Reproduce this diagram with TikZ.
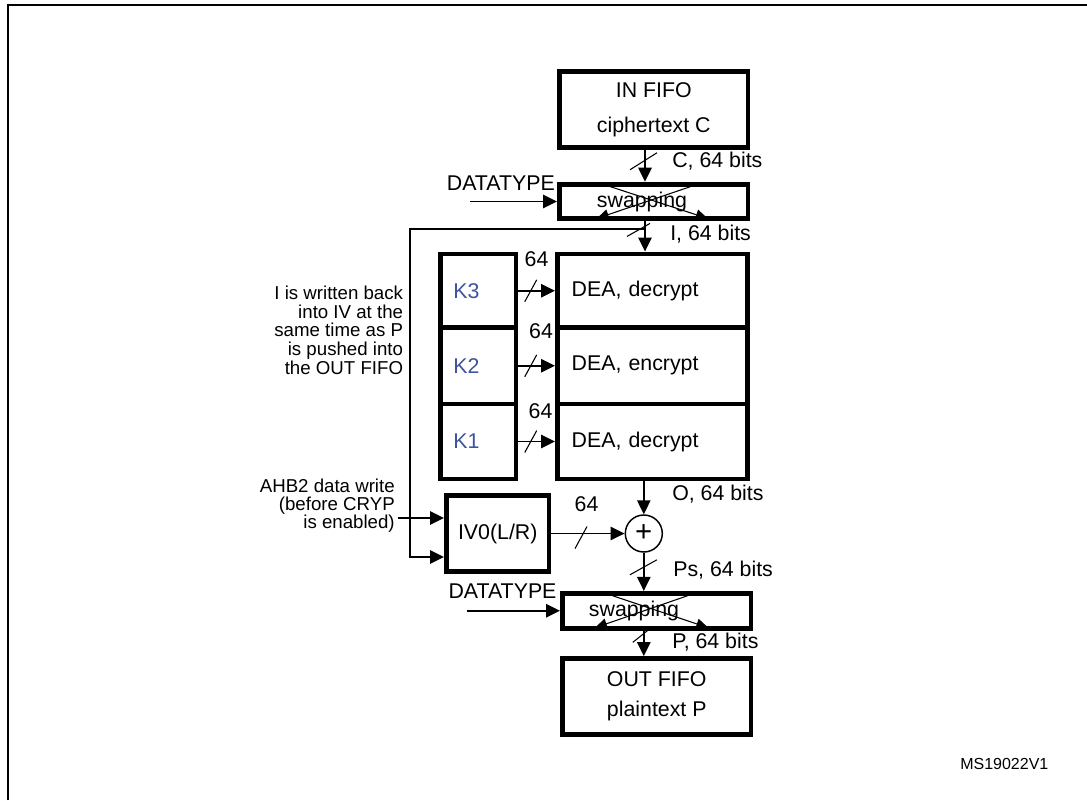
\documentclass[tikz,border=0pt]{standalone}
\usepackage{fontspec}
\setmainfont{Liberation Sans}
\usetikzlibrary{calc,arrows.meta}

\definecolor{keyblue}{RGB}{62,84,160}

\tikzset{
  blk/.style={draw, line width=3.7pt, inner sep=0pt, font=\fontsize{16}{19}\selectfont},
  fifo/.style={blk, minimum width=141.4pt, minimum height=56.6pt, align=center},
  swapbox/.style={blk, minimum width=141.4pt, minimum height=26pt},
  dearow/.style={blk, text width=121.3pt, inner xsep=10.6pt, minimum height=#1, align=left},
  keyrow/.style={blk, text width=37.4pt, inner xsep=9.6pt, minimum height=#1, align=left, text=keyblue},
  xorop/.style={circle, draw, line width=1.1pt, minimum size=27.75pt, inner sep=0pt, font=\fontsize{22}{24}\selectfont},
  lbl/.style={inner sep=0pt, font=\fontsize{16}{19}\selectfont},
  note/.style={inner sep=0pt, align=right},
  flow/.style={-{Triangle[length=10.5pt,width=10pt]}, line width=1.3pt},
  crossarrow/.style={-{Triangle[length=9pt,width=8pt]}, line width=0.8pt},
  busmark/.style={line width=0.8pt}
}

\begin{document}
\begin{tikzpicture}[x=0.75pt, y=-0.75pt]
  \path[use as bounding box, fill=white] (0,0) rectangle (1087,800);
  \draw[line width=1.5pt] (7.7,800) -- (7.7,5) -- (1087,5);

  % blocks
  \coordinate (busA) at (645,0);
  \node[fifo, font=\fontsize{16}{26.25}\selectfont] (infifo) at (653.75,109.6) {IN FIFO\\ciphertext C};
  \node[swapbox] (swapA) at (653.75,201.5) {};
  \node[lbl] (swapAtxt) at ($(swapA)+(-11.75,0)$) {swapping};

  \node[dearow=55.1pt] (dea3) at (652.5,290.75) {DEA, decrypt};
  \node[dearow=57.4pt] (dea2) at (652.5,365.75) {DEA, encrypt};
  \node[dearow=56.25pt] (dea1) at (652.5,441.5) {DEA, decrypt};
  \node[keyrow=55.1pt] (k3) at (478.25,290.75) {K3};
  \node[keyrow=57.4pt] (k2) at (478.25,365.75) {K2};
  \node[keyrow=56.25pt] (k1) at (478.25,441.5) {K1};

  \node[blk, minimum width=76.9pt, minimum height=56.9pt] (iv0) at (497.75,533.5) {IV0(L/R)};
  \path (iv0.west) ++(0,-15.5) coordinate (ivhi);
  \path (iv0.west) ++(0,23.5) coordinate (ivlo);
  \node[xorop] (xor) at (643.8,533.5) {+};

  \node[swapbox] (swapB) at (656.75,610.75) {};
  \node[lbl] (swapBtxt) at ($(swapB)+(-22.75,0)$) {swapping};
  \node[fifo, font=\fontsize{16}{22.5}\selectfont] (outfifo) at (656.75,696.3) {OUT FIFO\\plaintext P};

  % swapping crosses
  \draw[crossarrow] ($(swapA)+(-50,-17)$) -- ($(swapA)+(54,17)$);
  \draw[crossarrow] ($(swapA)+(43,-17)$) -- ($(swapA)+(-57,17)$);
  \draw[crossarrow] ($(swapB)+(-50,-17)$) -- ($(swapB)+(51.5,17)$);
  \draw[crossarrow] ($(swapB)+(36.5,-17)$) -- ($(swapB)+(-61.75,17)$);

  % texts
  \node[lbl, anchor=base east] (dtypeA) at (555,190) {DATATYPE};
  \node[lbl, anchor=base east] (dtypeB) at (556.7,598.3) {DATATYPE};
  \node[lbl, anchor=base west] (cbits) at (672,167) {C, 64 bits};
  \node[lbl, anchor=base west] (ibits) at (670,240) {I, 64 bits};
  \node[lbl, anchor=base west] (obits) at (672,500) {O, 64 bits};
  \node[lbl, anchor=base west] (psbits) at (673,576) {Ps, 64 bits};
  \node[lbl, anchor=base west] (pbits) at (672,648) {P, 64 bits};
  \node[lbl, anchor=base] (w3) at (536.5,266.7) {64};
  \node[lbl, anchor=base] (w2) at (541,338.3) {64};
  \node[lbl, anchor=base] (w1) at (540.5,418.3) {64};
  \node[lbl, anchor=base] (wiv) at (586.5,511.7) {64};
  \node[note, font=\fontsize{14}{13.9}\selectfont, anchor=base east] (wbnote) at (403.3,374)
    {I is written back\\into IV at the\\same time as P\\is pushed into\\the OUT FIFO};
  \node[note, font=\fontsize{14}{13.5}\selectfont, anchor=base east] (ahb) at (395,528.3)
    {AHB2 data write\\(before CRYP\\is enabled)};
  \node[inner sep=0pt, font=\fontsize{12}{14}\selectfont, anchor=base west] (figid) at (960,769.3) {MS19022V1};

  % data path
  \draw[flow] (infifo.south -| busA) -- (swapA.north -| busA);
  \draw[busmark] ($(infifo.south -| busA)!0.5!(swapA.north -| busA)$) ++(-15,4) -- ++(27,-17);
  \draw[flow] (swapA.south -| busA) -- (dea3.north -| busA);
  \draw[busmark] ($(swapA.south -| busA)!0.5!(dea3.north -| busA)$) ++(-18,0) -- ++(23,-13);
  \coordinate (fbturn) at (410,229);
  \draw[flow] (busA |- fbturn) -- (fbturn) |- (ivlo);

  \coordinate (dtA) at (470,201.5);
  \draw[flow] (dtA) -- (swapA.west);
  \coordinate (dtB) at (466.7,610.75);
  \draw[flow] (dtB) -- (swapB.west);

  \draw[flow] (k3.east) -- (dea3.west);
  \draw[busmark] ($(k3.east)!0.5!(dea3.west)$) ++(-12,11) -- ++(12,-22);
  \draw[flow] (k2.east) -- (dea2.west);
  \draw[busmark] ($(k2.east)!0.5!(dea2.west)$) ++(-12,11) -- ++(12,-22);
  \draw[flow] (k1.east) -- (dea1.west);
  \draw[busmark] ($(k1.east)!0.5!(dea1.west)$) ++(-12,11) -- ++(12,-22);

  \draw[flow] (dea1.south -| xor) -- (xor.north);
  \draw[flow, shorten <=2pt] (ahb.east |- ivhi) -- (ivhi);
  \draw[flow] (iv0.east) -- (xor.west);
  \draw[busmark] ($(iv0.east)!0.5!(xor.west)$) ++(-13,15) -- ++(12,-22);

  \draw[flow] (xor.south) -- (swapB.north -| xor);
  \draw[busmark] ($(xor.south)!0.5!(swapB.north -| xor)$) ++(-14,3) -- ++(27,-15);
  \draw[flow] (swapB.south -| xor) -- (outfifo.north -| xor);
  \draw[busmark] ($(swapB.south -| xor)!0.5!(outfifo.north -| xor)$) ++(-11,-1) -- ++(15,-12);
\end{tikzpicture}
\end{document}
